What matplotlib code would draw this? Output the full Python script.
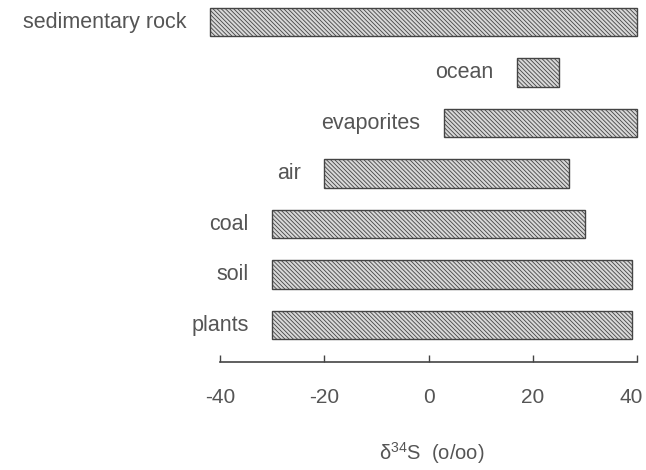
import matplotlib.pyplot as plt
import matplotlib.transforms as mtransforms
import numpy as np

# sulfur isotope ranges (delta 34S, per mil), top to bottom
RESERVOIRS = ["sedimentary rock", "ocean", "evaporites", "air", "coal", "soil", "plants"]
LOW  = [-42, 17, 3, -20, -30, -30, -30]
HIGH = [40, 25, 40, 27, 30, 39, 39]
XTICKS = [-40, -20, 0, 20, 40]

TEXT_COLOR = "#555555"
LINE_COLOR = "#444444"

plt.rcParams["font.family"] = ["Liberation Sans", "DejaVu Sans"]
plt.rcParams["hatch.color"] = "#606060"
plt.rcParams["hatch.linewidth"] = 0.6

fig = plt.figure(figsize=(6.46, 4.70), dpi=100)
ax = fig.add_axes([0.3003, 0.2298, 0.698, 0.7717])

y = np.arange(len(RESERVOIRS))[::-1]
low, high = np.array(LOW), np.array(HIGH)
ax.barh(y, high - low, left=low, height=0.56, color="#d8d8d8",
        edgecolor=LINE_COLOR, linewidth=1.0, hatch="\\" * 8, zorder=3)

for yi, name, lo in zip(y, RESERVOIRS, low):
    ax.annotate(name, xy=(lo, yi), xytext=(-17, 0), textcoords="offset points",
                ha="right", va="center", fontsize=15.5, color=TEXT_COLOR,
                annotation_clip=False)

ax.set_xlim(-45, 41.5)
ax.set_ylim(-0.73, 6.45)
ax.set_xticks(XTICKS)
ax.set_xticklabels([str(t) for t in XTICKS], fontsize=15, color=TEXT_COLOR)
ax.set_yticks([])
ax.tick_params(axis="x", direction="in", length=5, width=1.0, color=LINE_COLOR, pad=19)

# last label sits at the right edge, keep it inside the figure
last = ax.get_xticklabels()[-1]
last.set_ha("right")
last.set_transform(last.get_transform() +
                   mtransforms.ScaledTranslation(4 / 72, 0, fig.dpi_scale_trans))

for side in ["top", "right", "left"]:
    ax.spines[side].set_visible(False)
ax.spines["bottom"].set_bounds(-40, 40)
ax.spines["bottom"].set_color(LINE_COLOR)
ax.spines["bottom"].set_linewidth(1.2)

ax.set_xlabel(r"$\mathregular{\delta^{34}}$S  (o/oo)", fontsize=14.5, color=TEXT_COLOR)
ax.xaxis.set_label_coords(0.528, -0.215)
ax.patch.set_visible(False)

plt.savefig("out.png", dpi=100)
